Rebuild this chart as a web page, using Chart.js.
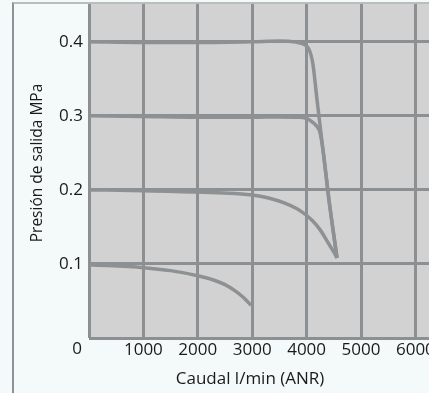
<!DOCTYPE html>
<html>
<head>
<meta charset="utf-8">
<script src="https://cdn.jsdelivr.net/npm/chart.js@4"></script>
<style>
  html, body { margin: 0; padding: 0; background: #f4fafa; }
  #wrap { position: relative; width: 429px; height: 393px; overflow: hidden; }
  #frame { position: absolute; left: 12px; top: 2px; width: 430px; height: 400px;
           border-left: 2px solid #8f9294; border-top: 2px solid #b9bdbe; }
  canvas { position: absolute; left: 0; top: 0; }
</style>
</head>
<body>
<div id="wrap">
  <div id="frame"></div>
  <canvas id="flowChart" width="429" height="393"></canvas>
</div>
<script>
// Flow characteristics of the regulator, one curve per set pressure
const flow04 = [0, 1000, 2000, 3000, 3500, 3805, 3934, 4026, 4081, 4118, 4191, 4301, 4412, 4559];
const pres04 = [0.400, 0.399, 0.399, 0.400, 0.401, 0.3995, 0.397, 0.392, 0.382, 0.369, 0.322, 0.254, 0.186, 0.108];

const flow03 = [0, 1000, 2000, 3000, 3500, 3850, 3971, 4081, 4173, 4240, 4301, 4412, 4559];
const pres03 = [0.300, 0.299, 0.298, 0.298, 0.2985, 0.298, 0.297, 0.293, 0.287, 0.279, 0.254, 0.186, 0.108];

const flow02 = [0, 1000, 2000, 3000, 3300, 3600, 3900, 4100, 4250, 4400, 4500, 4559];
const pres02 = [0.200, 0.199, 0.197, 0.193, 0.189, 0.182, 0.171, 0.159, 0.146, 0.128, 0.116, 0.108];

const flow01 = [0, 1000, 1500, 2000, 2300, 2500, 2700, 2850, 2980];
const pres01 = [0.099, 0.095, 0.091, 0.084, 0.078, 0.072, 0.063, 0.054, 0.044];

const xTicks = [1000, 2000, 3000, 4000, 5000, 6000];
const yTicks = [0.1, 0.2, 0.3, 0.4];

const gridColor = '#8d9092';
const curveColor = '#8e9193';
const fontFamily = "'Open Sans', sans-serif";

Chart.defaults.font.family = fontFamily;
Chart.defaults.color = '#1a1a1a';

function toPoints(xs, ys) {
    return xs.map((x, i) => ({ x: x, y: ys[i] }));
}

function curve(xs, ys) {
    return {
        data: toPoints(xs, ys),
        borderColor: curveColor,
        borderWidth: 3.5,
        pointRadius: 0,
        fill: false,
        cubicInterpolationMode: 'monotone'
    };
}

// no extra room for the outer tick labels
function noPadding(scale) {
    scale.paddingTop = 0;
    scale.paddingBottom = 0;
    scale.paddingLeft = 0;
    scale.paddingRight = 0;
}

// grey plot background
const plotBackground = {
    id: 'plotBackground',
    beforeDraw(chart) {
        const { ctx, chartArea } = chart;
        ctx.save();
        ctx.fillStyle = '#d2d2d2';
        ctx.fillRect(chartArea.left, chartArea.top, chartArea.right - chartArea.left, chartArea.bottom - chartArea.top);
        ctx.restore();
    }
};

// axis titles and the corner zero
const axisText = {
    id: 'axisText',
    afterDraw(chart) {
        const { ctx, scales } = chart;
        ctx.save();
        ctx.fillStyle = '#1a1a1a';
        ctx.textAlign = 'center';
        ctx.textBaseline = 'middle';
        ctx.font = '17px ' + fontFamily;
        ctx.fillText('0', scales.x.getPixelForValue(0) - 12, 349);
        ctx.fillText('Caudal l/min (ANR)', scales.x.getPixelForValue(2960), 379);
        ctx.font = '15.5px ' + fontFamily;
        ctx.translate(38, 163);
        ctx.rotate(-Math.PI / 2);
        ctx.fillText('Presión de salida MPa', 0, 0);
        ctx.restore();
    }
};

const ctx = document.getElementById('flowChart').getContext('2d');
new Chart(ctx, {
    type: 'line',
    data: {
        datasets: [
            curve(flow04, pres04),
            curve(flow03, pres03),
            curve(flow02, pres02),
            curve(flow01, pres01)
        ]
    },
    options: {
        responsive: false,
        animation: false,
        layout: { padding: { top: 4, right: 0, left: 0, bottom: 0 } },
        plugins: {
            legend: { display: false },
            tooltip: { enabled: false }
        },
        scales: {
            x: {
                type: 'linear',
                min: 0,
                max: 6250,
                border: { display: false },
                grid: { color: gridColor, lineWidth: 3, drawTicks: false },
                afterBuildTicks: (scale) => {
                    scale.ticks = [0].concat(xTicks).map(v => ({ value: v }));
                },
                afterFit: (scale) => { scale.height = 55; noPadding(scale); },
                ticks: {
                    padding: 2,
                    maxRotation: 0,
                    font: { size: 17 },
                    callback: (v) => v === 0 ? '' : String(v)
                }
            },
            y: {
                min: 0,
                max: 0.451,
                border: { display: false },
                grid: { color: gridColor, lineWidth: 3, drawTicks: false },
                afterBuildTicks: (scale) => {
                    scale.ticks = [0].concat(yTicks).map(v => ({ value: v }));
                },
                afterFit: (scale) => { scale.width = 89; noPadding(scale); },
                ticks: {
                    padding: 6,
                    font: { size: 17 },
                    callback: (v) => v === 0 ? '' : v.toFixed(1)
                }
            }
        }
    },
    plugins: [plotBackground, axisText]
});
</script>
</body>
</html>
